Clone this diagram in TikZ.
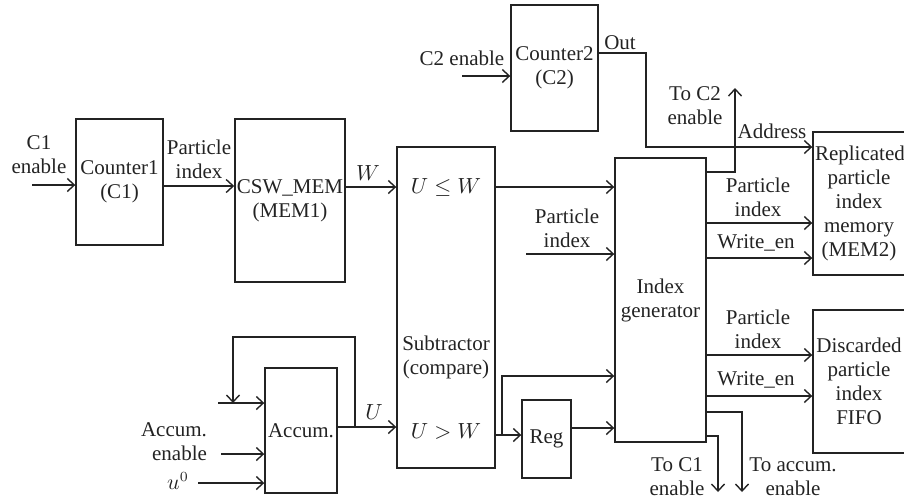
\documentclass[tikz,border=0pt]{standalone}
\usepackage{fontspec}
\setmainfont{Liberation Serif}
\usepackage{tikz}
\usetikzlibrary{positioning,arrows.meta}
\definecolor{wiregray}{RGB}{35,35,35}
\tikzset{
  blk/.style={rectangle,draw=wiregray,line width=0.7pt,align=center,
    font=\fontsize{10.5}{12}\selectfont,text=wiregray,inner sep=1pt},
  lbl/.style={align=center,font=\fontsize{10.5}{12}\selectfont,
    text=wiregray,inner sep=0pt},
  sig/.style={-{Straight Barb[length=3.5pt,width=6.5pt]},draw=wiregray,line width=0.7pt},
}

\begin{document}
\begin{tikzpicture}[x=0.5pt,y=-0.5pt]
  \useasboundingbox (0,0) rectangle (904,500);
  % blocks
  \node[blk,minimum width=43.5pt,minimum height=63pt] (c1) at (119.5,182) {Counter1\\(C1)};
  \node[blk,minimum width=54pt,minimum height=81.5pt] (mem1) at (290,200.5) {CSW\_MEM\\(MEM1)};
  \node[blk,minimum width=49pt,minimum height=160.5pt] (sub) at (446,307.5) {};
  \node[blk,minimum width=43.5pt,minimum height=63pt] (c2) at (554.5,68) {Counter2\\(C2)};
  \node[blk,minimum width=45.5pt,minimum height=142pt] (idx) at (660.5,300) {Index\\generator};
  \node[blk,text width=44pt,minimum height=71.5pt] (mem2) at (859,203.5)
    {Replicated\\particle\\index\\memory\\(MEM2)};
  \node[blk,text width=44pt,minimum height=71.5pt] (fifo) at (859,381.5)
    {Discarded\\particle\\index\\FIFO};
  \node[blk,minimum width=36pt,minimum height=62.5pt] (acc) at (301,430.5) {Accum.};
  \node[blk,minimum width=24.5pt,minimum height=39pt] (reg) at (546.5,439) {Reg};
  \node[lbl] (ule) at (446,187) {$U \leq W$};
  \node[lbl] (subt) at (446,357) {Subtractor\\(compare)};
  \node[lbl] (ugt) at (446,431) {$U > W$};

  % counter 1 and memory 1
  \coordinate (c1in) at (32,185);
  \draw[sig] (c1in) -- (c1.west |- c1in);
  \node[lbl] (c1en) at (39,155) {C1\\enable};
  \draw[sig] (c1.east |- 0,186) -- (mem1.west |- 0,186);
  \node[lbl] (pi1) at (199,159) {Particle\\index};
  \draw[sig] (mem1.east |- 0,187) -- (sub.west |- 0,187);
  \node[lbl] (w) at (368,173) {$W$};
  \draw[sig] (sub.east |- 0,187) -- (idx.west |- 0,187);
  \coordinate (piin) at (526,254);
  \draw[sig] (piin) -- (idx.west |- piin);
  \node[lbl] (pi2) at (567,228) {Particle\\index};

  % accumulator
  \coordinate (fb) at (355,427);
  \coordinate (fbtop) at (233,337);
  \coordinate (fbin) at (218,403);
  \draw[sig] (acc.east |- fb) -- (sub.west |- fb);
  \node[lbl] (u) at (374,412) {$U$};
  \draw[sig] (fb) |- (fbtop) -- (fbtop |- fbin);
  \draw[sig] (fbin) -- (acc.west |- fbin);
  \coordinate (aen) at (221,454);
  \draw[sig] (aen) -- (acc.west |- aen);
  \node[lbl,align=right] (aenl) at (174,442) {Accum.\\enable};
  \coordinate (u0in) at (198,483);
  \draw[sig] (u0in) -- (acc.west |- u0in);
  \node[lbl] (u0) at (178,481) {$u^0$};

  % compare result and register
  \coordinate (gt) at (502,435);
  \draw[sig] (sub.east |- gt) -- (reg.west |- gt);
  \draw[sig] (gt) |- (idx.west |- 0,376);
  \draw[sig] (reg.east |- 0,428) -- (idx.west |- 0,428);

  % counter 2
  \coordinate (c2in) at (462,76);
  \draw[sig] (c2in) -- (c2.west |- c2in);
  \node[lbl] (c2en) at (462,58) {C2 enable};
  \coordinate (outb) at (646,53);
  \draw[sig] (c2.east |- outb) -- (outb) |- (mem2.west |- 0,147);
  \node[lbl] (out) at (620,43) {Out};
  \node[lbl] (addr) at (772,131) {Address};

  % index generator outputs
  \coordinate (toc2) at (735,88);
  \draw[sig] (idx.east |- 0,172) -| (toc2);
  \node[lbl] (toc2l) at (695,106) {To C2\\enable};
  \draw[sig] (idx.east |- 0,223) -- (mem2.west |- 0,223);
  \node[lbl] (pi3) at (758,197) {Particle\\index};
  \draw[sig] (idx.east |- 0,258) -- (mem2.west |- 0,258);
  \node[lbl] (we1) at (756,243) {Write\_en};
  \draw[sig] (idx.east |- 0,355) -- (fifo.west |- 0,355);
  \node[lbl] (pi4) at (758,329) {Particle\\index};
  \draw[sig] (idx.east |- 0,396) -- (fifo.west |- 0,396);
  \node[lbl] (we2) at (756,380) {Write\_en};
  \coordinate (toacc) at (742,492);
  \coordinate (toc1) at (718,492);
  \draw[sig] (idx.east |- 0,412) -| (toacc);
  \draw[sig] (idx.east |- 0,436) -| (toc1);
  \node[lbl] (toaccl) at (793,477) {To accum.\\enable};
  \node[lbl] (toc1l) at (677,477) {To C1\\enable};
\end{tikzpicture}
\end{document}
